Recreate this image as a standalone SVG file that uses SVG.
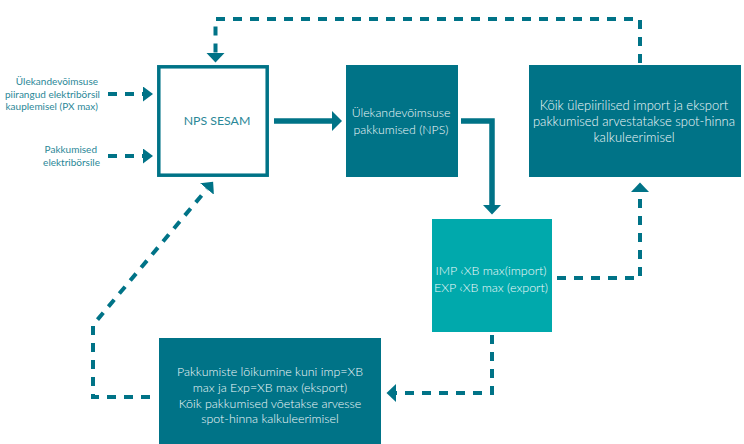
<svg xmlns="http://www.w3.org/2000/svg" width="744" height="444" viewBox="0 0 744 444">
  <style>
    .dark { fill: #007387; }
    .bright { fill: #00a9ac; }
    .frame { fill: #ffffff; stroke: #007387; stroke-width: 3.5; }
    .boxtext { font-family: Lato, "Open Sans", sans-serif; font-weight: 300; font-size: 13px; fill: #f2f9fa; text-anchor: middle; }
    .label { font-family: Lato, "Open Sans", sans-serif; font-weight: 400; font-size: 10px; fill: #2a8797; text-anchor: end; }
    .sesam { font-family: Lato, "Open Sans", sans-serif; font-weight: 400; font-size: 12.3px; fill: #2a8797; text-anchor: middle; }
    .solid { fill: none; stroke: #007387; stroke-width: 5.5; }
    .dash { fill: none; stroke: #007387; stroke-width: 4; stroke-dasharray: 9 8; }
    .head { fill: #007387; }
  </style>
  <defs>
    <marker id="arrowBig" markerUnits="userSpaceOnUse" markerWidth="11" markerHeight="21" refX="0" refY="10" orient="auto">
      <path class="head" d="M0,0 L10,10 L0,20 z"/>
    </marker>
    <marker id="arrowMid" markerUnits="userSpaceOnUse" markerWidth="11" markerHeight="19" refX="0" refY="9" orient="auto">
      <path class="head" d="M0,0 L9.5,9 L0,18 z"/>
    </marker>
    <marker id="arrowSmall" markerUnits="userSpaceOnUse" markerWidth="11" markerHeight="16" refX="0" refY="7.5" orient="auto">
      <path class="head" d="M0,0 L10,7.5 L0,15 z"/>
    </marker>
  </defs>

  <!-- connectors -->
  <g id="connectors">
    <path class="dash" d="M108,94 H143" marker-end="url(#arrowSmall)"/>
    <path class="dash" d="M108,156 H143" marker-end="url(#arrowSmall)"/>
    <path class="solid" d="M274,121 H332" marker-end="url(#arrowBig)"/>
    <path class="solid" d="M461,121 H492 V205" marker-end="url(#arrowMid)"/>
    <path class="dash" d="M640,63 V19 H215.5 V53" marker-end="url(#arrowMid)"/>
    <path class="dash" d="M557,278 H640 V192" marker-end="url(#arrowMid)"/>
    <path class="dash" d="M492,335 V393 H396" marker-end="url(#arrowMid)"/>
    <path class="dash" d="M150,397 H93 V325 L207,189" marker-end="url(#arrowMid)"/>
  </g>

  <!-- input labels -->
  <g id="input-capacity">
    <text class="label" x="98" y="85">Ülekandevõimsuse</text>
    <text class="label" x="100" y="97.5">piirangud elektribörsil</text>
    <text class="label" x="98" y="110">kauplemisel (PX max)</text>
  </g>
  <g id="input-bids">
    <text class="label" x="97" y="153">Pakkumised</text>
    <text class="label" x="100" y="166">elektribörsile</text>
  </g>

  <!-- nodes -->
  <g id="nps-sesam">
    <rect class="frame" x="158.8" y="66.8" width="108.4" height="108.4"/>
    <text class="sesam" x="217" y="125">NPS SESAM</text>
  </g>
  <g id="nps-bids">
    <rect class="dark" x="346" y="65" width="112" height="112"/>
    <text class="boxtext" x="401" y="117" style="font-size:12.3px">Ülekandevõimsuse</text>
    <text class="boxtext" x="401" y="134" style="font-size:12.3px">pakkumised (NPS)</text>
  </g>
  <g id="all-bids">
    <rect class="dark" x="529" y="65" width="212" height="112"/>
    <text class="boxtext" x="634" y="110">Kõik ülepiirilised import ja eksport</text>
    <text class="boxtext" x="634" y="126">pakkumised arvestatakse spot-hinna</text>
    <text class="boxtext" x="634" y="142">kalkuleerimisel</text>
  </g>
  <g id="xb-check">
    <rect class="bright" x="432" y="219" width="120" height="113"/>
    <text class="boxtext" x="491" y="275" style="font-size:12.5px">IMP ‹XB max(import)</text>
    <text class="boxtext" x="491" y="292" style="font-size:12.5px">EXP ‹XB max (export)</text>
  </g>
  <g id="curtailment">
    <rect class="dark" x="159" y="338" width="222" height="106"/>
    <text class="boxtext" x="270" y="376" style="font-size:12.4px">Pakkumiste lõikumine kuni imp=XB</text>
    <text class="boxtext" x="270" y="392" style="font-size:12.4px">max ja Exp=XB max (eksport)</text>
    <text class="boxtext" x="270" y="408" style="font-size:12.4px">Kõik pakkumised võetakse arvesse</text>
    <text class="boxtext" x="270" y="423" style="font-size:12.4px">spot-hinna kalkuleerimisel</text>
  </g>
</svg>
